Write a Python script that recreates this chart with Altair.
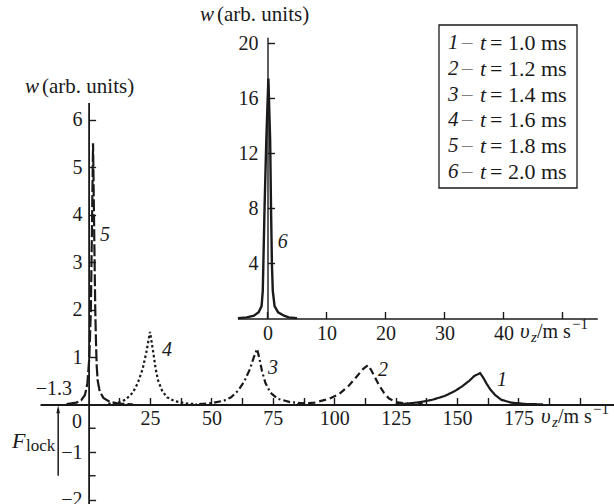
import altair as alt
import pandas as pd

FONT = "Liberation Serif"
INK = "#1a1a1a"

# ---------------- data ----------------
v1 = [125, 130, 135, 140, 145, 149, 152, 155, 157, 159.4, 160.6, 162, 163.5, 165.5, 168, 172, 178, 185]
w1 = [0.005, 0.02, 0.05, 0.1, 0.18, 0.28, 0.38, 0.5, 0.6, 0.66, 0.57, 0.44, 0.32, 0.2, 0.1, 0.04, 0.01, 0.003]
v2 = [85, 92, 98, 102, 106, 109, 111.8, 113.8, 115.3, 116.8, 118.3, 120.2, 122.2, 125, 130, 136]
w2 = [0.01, 0.04, 0.12, 0.22, 0.4, 0.58, 0.75, 0.83, 0.7, 0.55, 0.4, 0.25, 0.13, 0.05, 0.02, 0.01]
v3 = [45, 50, 55, 58, 61, 63.5, 65.7, 67.3, 68.6, 69.6, 70.6, 72, 74, 77, 82, 90]
w3 = [0.01, 0.03, 0.08, 0.15, 0.3, 0.5, 0.75, 1.0, 1.17, 0.95, 0.7, 0.45, 0.25, 0.12, 0.05, 0.01]
v4 = [8, 12, 15, 18, 20, 22, 23.5, 25, 26.3, 27.3, 28.3, 30, 32, 35, 40, 44]
w4 = [0.01, 0.04, 0.1, 0.25, 0.45, 0.75, 1.1, 1.53, 1.1, 0.75, 0.5, 0.28, 0.15, 0.07, 0.02, 0.01]
v5 = [-9, -5, -3, -1.5, -0.5, 0.3, 0.9, 1.3, 1.8, 2.3, 2.7, 3.0, 3.3, 3.7, 4.5, 6, 8.5, 12, 18]
w5 = [0.01, 0.04, 0.09, 0.2, 0.45, 1.0, 2.0, 3.5, 5.5, 3.5, 2.0, 1.3, 0.8, 0.5, 0.28, 0.14, 0.06, 0.02, 0.005]
v6 = [-5, -3.5, -2.3, -1.5, -1.0, -0.8, -0.7, -0.5, -0.2, 0.15, 0.45, 0.6, 0.75, 0.9, 1.2, 1.8, 2.8, 3.6, 5]
w6 = [0.03, 0.08, 0.2, 0.45, 0.9, 2.0, 4.0, 8.0, 13.0, 17.45, 13.0, 8.0, 4.0, 2.0, 0.9, 0.45, 0.2, 0.08, 0.03]

curve_ids = ["1", "2", "3", "4", "5"]
legend_ids = ["1", "2", "3", "4", "5", "6"]
legend_times = ["1.0", "1.2", "1.4", "1.6", "1.8", "2.0"]

label_ids = ["5", "4", "3", "2", "1"]
label_v = [6.7, 31.9, 75.1, 119.9, 168.3]
label_w = [3.57, 1.15, 0.77, 0.73, 0.52]
inset_label_v = [2.6]
inset_label_w = [5.56]

flock_v = [-12.4]
flock_w_from = [-1.5]
flock_w_to = [-0.1]

main_x_ticks = [12.5 * k for k in range(1, 17)]
main_y_ticks = [-2, -1, 1, 2, 3, 4, 5, 6]
main_y_minor = [-1.5, -0.5]
inset_x_ticks = [0, 10, 20, 30, 40, 50]
inset_y_ticks = [4, 8, 12, 16, 20]

# ---------------- tables ----------------
rows = []
for cid, vs, ws in zip(curve_ids, [v1, v2, v3, v4, v5], [w1, w2, w3, w4, w5]):
    for i, (v, w) in enumerate(zip(vs, ws)):
        rows.append({"curve": cid, "v": v, "w": w, "o": i})
df_main = pd.DataFrame(rows)
df_inset = pd.DataFrame({"v": v6, "w": w6, "o": list(range(len(v6)))})
df_lab = pd.DataFrame({"lab": label_ids, "v": label_v, "w": label_w})
df_lab6 = pd.DataFrame({"lab": ["6"], "v": inset_label_v, "w": inset_label_w})
df_flock = pd.DataFrame({"v": flock_v, "w0": flock_w_from, "w1": flock_w_to})
df_minor = pd.DataFrame({"w": main_y_minor})


# ---------------- scales ----------------
def main_x():
    return alt.Scale(domain=[-19.8, 213.9], range=[40, 614], nice=False, zero=False)


def main_y():
    return alt.Scale(domain=[-2.1, 6.36], range=[504.25, 102.4], nice=False, zero=False)


def ins_x():
    return alt.Scale(domain=[-5.1, 55.9], range=[237.4, 597.3], nice=False, zero=False)


def ins_y():
    return alt.Scale(domain=[0, 20.45], range=[318.5, 37.3], nice=False, zero=False)


common_axis = dict(grid=False, domainColor=INK, tickColor=INK,
                   labelFont=FONT, labelFontSize=20, labelColor=INK,
                   labelOverlap=False, labelFlush=False, tickSize=7, tickWidth=1.4)

ax_main_x = alt.Axis(orient="top", offset=-404.5, values=main_x_ticks,
                     labelExpr="(datum.value % 25 == 0 && datum.value <= 175) ? datum.label : ''",
                     labelPadding=-21, labelBaseline="middle", labelAlign="center",
                     domainWidth=1.8, format="d", **common_axis)
ax_main_y = alt.Axis(orient="right", offset=88.6 - 614, values=main_y_ticks,
                     labelPadding=-13.6, labelAlign="right", labelBaseline="middle",
                     domainWidth=1.8, format="d", **common_axis)
ax_ins_x = alt.Axis(orient="top", offset=-318.5, values=inset_x_ticks,
                    labelExpr="datum.value < 50 ? datum.label : ''",
                    labelPadding=-22, labelBaseline="middle", labelAlign="center",
                    domainWidth=1.4, format="d", **common_axis)
ax_ins_y = alt.Axis(orient="right", offset=267.5 - 614, values=inset_y_ticks,
                    labelPadding=-16.5, labelAlign="right", labelBaseline="middle",
                    domainWidth=1.4, format="d", **common_axis)

# ---------------- main panel ----------------
curves = alt.Chart(df_main).mark_line(color=INK, strokeWidth=2.2).encode(
    x=alt.X("v:Q", scale=main_x(), axis=ax_main_x, title=""),
    y=alt.Y("w:Q", scale=main_y(), axis=ax_main_y, title=""),
    order="o:Q",
    strokeDash=alt.StrokeDash("curve:N", legend=None,
                              scale=alt.Scale(domain=curve_ids,
                                              range=[[1, 0], [7, 4], [7, 3, 2, 3], [2.5, 2.5], [12, 3]])),
)
minor = alt.Chart(df_minor).mark_tick(orient="horizontal", size=7, thickness=1.4,
                                      color=INK, xOffset=3.5, opacity=1).encode(
    x=alt.X(datum=0, type="quantitative", scale=main_x(), axis=None),
    y=alt.Y("w:Q", scale=main_y(), axis=None),
)
labels = alt.Chart(df_lab).mark_text(font=FONT, fontSize=20, fontStyle="italic", color=INK).encode(
    x=alt.X("v:Q", scale=main_x(), axis=None),
    y=alt.Y("w:Q", scale=main_y(), axis=None),
    text="lab:N",
)
arrow = alt.Chart(df_flock).mark_rule(color=INK, strokeWidth=1.5).encode(
    x=alt.X("v:Q", scale=main_x(), axis=None),
    y=alt.Y("w0:Q", scale=main_y(), axis=None),
    y2="w1:Q",
)
arrow_head = alt.Chart(df_flock).mark_point(shape="M0,-1L0.45,1L-0.45,1Z", filled=True,
                                            size=64, color=INK, opacity=1).encode(
    x=alt.X("v:Q", scale=main_x(), axis=None),
    y=alt.Y("w1:Q", scale=main_y(), axis=None),
)

# ---------------- inset ----------------
ins_line = alt.Chart(df_inset).mark_line(color=INK, strokeWidth=2.4).encode(
    x=alt.X("v:Q", scale=ins_x(), axis=ax_ins_x, title=""),
    y=alt.Y("w:Q", scale=ins_y(), axis=ax_ins_y, title=""),
    order="o:Q",
)
ins_lab = alt.Chart(df_lab6).mark_text(font=FONT, fontSize=20, fontStyle="italic", color=INK).encode(
    x=alt.X("v:Q", scale=ins_x(), axis=None),
    y=alt.Y("w:Q", scale=ins_y(), axis=None),
    text="lab:N",
)

# ---------------- annotations ----------------
one = pd.DataFrame({"k": [0]})


def txt(s, x, y, size=20, italic=False, align="left", color=INK):
    return alt.Chart(one).mark_text(
        text=s, font=FONT, fontSize=size, fontStyle="italic" if italic else "normal",
        align=align, baseline="middle", color=color, lineHeight=25.8,
    ).encode(x=alt.value(x), y=alt.value(y))


def vz_label(x, y):
    return [
        txt("υ", x, y, 21, True),
        txt("z", x + 11, y + 5, 15, True),
        txt("/m s", x + 17, y, 20),
        txt("−1", x + 52, y - 8, 15),
    ]


annots = []
annots += [txt("w", 25, 87, 21, True), txt("(arb. units)", 42, 87, 21)]
annots += [txt("w", 200, 15, 21, True), txt("(arb. units)", 217, 15, 21)]
annots += vz_label(541, 417)
annots += vz_label(520, 332)
annots += [txt("F", 12, 441, 22, True), txt("lock", 26, 446, 17)]
annots += [txt("−1.3", 72, 389, 20, align="right"), txt("0", 82, 422, 20, align="right")]

box = alt.Chart(one).mark_rect(fillOpacity=0, stroke=INK, strokeWidth=1.3).encode(
    x=alt.value(439), x2=alt.value(577), y=alt.value(25), y2=alt.value(188)
)
annots += [box]
annots += [
    txt(legend_ids, 448, 43, 21, True),
    txt(["–"] * len(legend_ids), 462, 43, 21, color="#808080"),
    txt(["t"] * len(legend_ids), 480, 43, 22, True),
    txt([f"= {t} ms" for t in legend_times], 490, 43, 22),
]

chart = alt.layer(curves, minor, labels, arrow, arrow_head, ins_line, ins_lab, *annots).resolve_scale(
    x="independent", y="independent"
).properties(
    width=614, height=504, padding=0, autosize=alt.AutoSizeParams(type="none")
).configure_view(strokeWidth=0)

chart.save("out.html", embed_options={"renderer": "svg", "actions": False})
